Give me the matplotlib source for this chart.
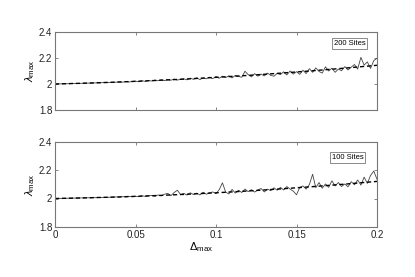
import numpy as np
import matplotlib
matplotlib.use("Agg")
import matplotlib.pyplot as plt

plt.rcParams['font.family'] = ['Liberation Sans', 'DejaVu Sans']
plt.rcParams['mathtext.fontset'] = 'custom'
plt.rcParams['mathtext.rm'] = 'Liberation Sans'
plt.rcParams['mathtext.it'] = 'Liberation Sans:italic'

# noisy simulation results, delta_max = 0 .. 0.2 step 0.002
delta = np.linspace(0, 0.2, 101)

lam_200 = [
    2.000, 2.001, 2.001, 2.002, 2.002, 2.003, 2.004, 2.004, 2.005, 2.006,
    2.007, 2.007, 2.008, 2.009, 2.009, 2.011, 2.010, 2.012, 2.013, 2.014,
    2.016, 2.014, 2.019, 2.015, 2.020, 2.022, 2.017, 2.025, 2.020, 2.027,
    2.023, 2.030, 2.025, 2.033, 2.026, 2.034, 2.029, 2.038, 2.030, 2.037,
    2.040, 2.032, 2.045, 2.036, 2.048, 2.034, 2.046, 2.040, 2.053, 2.041,
    2.058, 2.044, 2.060, 2.049, 2.063, 2.047, 2.066, 2.058, 2.052, 2.098,
    2.072, 2.055, 2.080, 2.060, 2.076, 2.062, 2.084, 2.066, 2.060, 2.082,
    2.072, 2.094, 2.070, 2.100, 2.076, 2.095, 2.074, 2.106, 2.080, 2.118,
    2.090, 2.124, 2.096, 2.084, 2.132, 2.100, 2.122, 2.090, 2.115, 2.102,
    2.134, 2.108, 2.130, 2.150, 2.115, 2.205, 2.145, 2.170, 2.120, 2.180,
    2.198,
]

lam_100 = [
    2.000, 2.000, 2.001, 2.001, 2.002, 2.002, 2.003, 2.003, 2.004, 2.004,
    2.005, 2.005, 2.006, 2.006, 2.007, 2.008, 2.007, 2.009, 2.009, 2.011,
    2.010, 2.013, 2.011, 2.015, 2.012, 2.016, 2.013, 2.019, 2.015, 2.018,
    2.022, 2.015, 2.025, 2.018, 2.030, 2.036, 2.020, 2.042, 2.058, 2.028,
    2.036, 2.024, 2.040, 2.028, 2.038, 2.025, 2.044, 2.030, 2.040, 2.046,
    2.034, 2.062, 2.110, 2.045, 2.032, 2.064, 2.038, 2.058, 2.042, 2.066,
    2.048, 2.062, 2.045, 2.060, 2.070, 2.046, 2.066, 2.055, 2.075, 2.058,
    2.078, 2.060, 2.084, 2.066, 2.052, 2.026, 2.078, 2.088, 2.066, 2.098,
    2.170, 2.076, 2.112, 2.072, 2.102, 2.078, 2.124, 2.088, 2.112, 2.084,
    2.102, 2.082, 2.118, 2.096, 2.130, 2.094, 2.150, 2.106, 2.162, 2.192,
    2.135,
]

# theoretical curves (dashed)
delta_th = [0.0, 0.02, 0.04, 0.06, 0.08, 0.10, 0.12, 0.14, 0.16, 0.18, 0.20]
th_200 = [2.000, 2.0068, 2.0154, 2.0256, 2.0374, 2.051, 2.0662, 2.0832, 2.1018, 2.122, 2.144]
th_100 = [2.000, 2.0048, 2.0112, 2.0192, 2.0288, 2.040, 2.0528, 2.0672, 2.0832, 2.1008, 2.120]

panels = [("200 Sites", lam_200, th_200), ("100 Sites", lam_100, th_100)]

fig = plt.figure(figsize=(4.15, 2.77), dpi=100)
ax_top = fig.add_axes([55/415, 1 - 110/277, 322/415, 78/277])
ax_bot = fig.add_axes([55/415, 1 - 227/277, 322/415, 85.5/277])
label_pos = [(0.915, 0.856), (0.908, 0.813)]

for ax, (name, sim, th), (lx, ly) in zip([ax_top, ax_bot], panels, label_pos):
    ax.plot(delta, sim, color='#444444', lw=0.6)
    ax.plot(delta_th, th, color='black', lw=1.0, ls=(0, (3, 2)))
    ax.set_xlim(0, 0.2)
    ax.set_ylim(1.8, 2.4)
    ax.set_yticks([1.8, 2.0, 2.2, 2.4])
    ax.set_yticklabels(['1.8', '2', '2.2', '2.4'])
    ax.set_xticks([0, 0.05, 0.1, 0.15, 0.2])
    ax.tick_params(direction='in', length=2.5, width=0.5, top=True, right=True,
                   labelsize=7, colors='#555555', labelcolor='#222222', pad=2)
    for s in ax.spines.values():
        s.set_color('#777777')
        s.set_linewidth(0.8)
    ax.set_ylabel(r'$\lambda_{\rm max}$', fontsize=8, labelpad=1)
    ax.text(lx, ly, name, transform=ax.transAxes, fontsize=5.5, ha='center', va='center',
            bbox=dict(boxstyle='square,pad=0.25', fc='white', ec='#777777', lw=0.6))

ax_top.set_xticklabels([])
ax_bot.set_xticklabels(['0', '0.05', '0.1', '0.15', '0.2'])
ax_bot.set_xlabel(r'$\Delta_{\rm max}$', fontsize=8)
ax_bot.xaxis.set_label_coords(0.455, -0.15, transform=ax_bot.transAxes)
ax_bot.xaxis.label.set_va('top')

fig.savefig("out.png", dpi=100)
